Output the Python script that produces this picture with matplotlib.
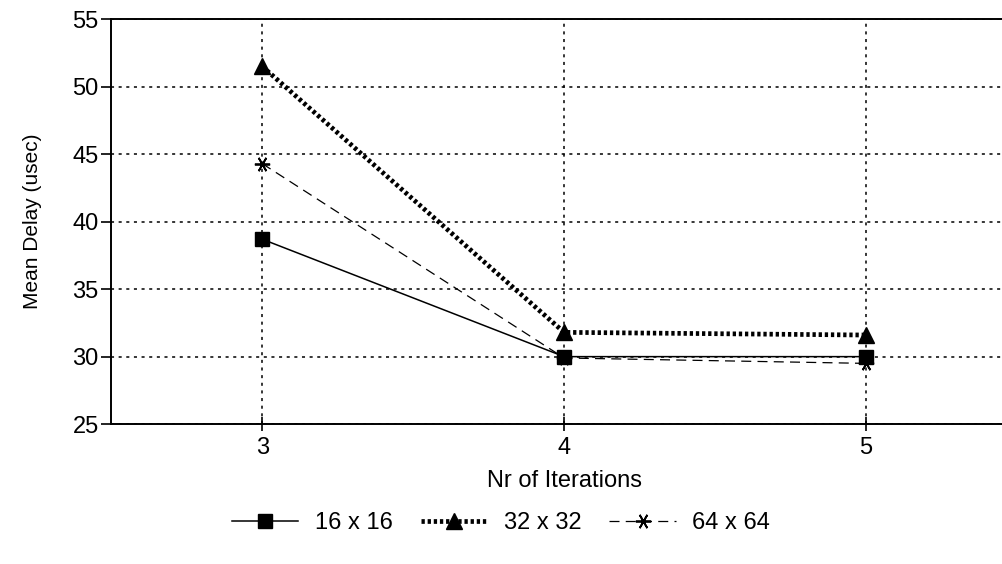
import matplotlib
matplotlib.use("Agg")
import matplotlib.pyplot as plt

plt.rcParams["font.family"] = ["Liberation Sans", "DejaVu Sans"]

iterations = [3, 4, 5]
delay_16 = [38.7, 30.0, 30.0]
delay_32 = [51.5, 31.8, 31.6]
delay_64 = [44.3, 29.9, 29.5]
labels = ["16 x 16", "32 x 32", "64 x 64"]
yticks = [25, 30, 35, 40, 45, 50, 55]

fig = plt.figure(figsize=(10.02, 5.64), dpi=100)
ax = fig.add_axes([0.111, 0.248, 0.904, 0.718])

ax.plot(iterations, delay_16, "-", color="k", lw=1.1, marker="s", ms=10, label=labels[0])
ax.plot(iterations, delay_32, color="k", lw=3.4, ls=(0, (0.7, 0.6)), marker="^", ms=12,
        label=labels[1])
ax.plot(iterations, delay_64, color="k", lw=0.9, ls=(0, (8, 5)), marker=(6, 2, 90), ms=11,
        mew=1.3, label=labels[2])

ax.set_xlim(2.5, 5.5)
ax.set_ylim(25, 55)
ax.set_xticks(iterations)
ax.set_yticks(yticks)
ax.grid(True, color="k", ls=(0, (2, 3)), lw=1.1)
ax.set_axisbelow(True)
ax.spines["right"].set_visible(False)
for s in ["left", "top", "bottom"]:
    ax.spines[s].set_linewidth(1.4)
ax.tick_params(axis="y", direction="out", length=7, width=1.2, labelsize=17, pad=2)
ax.tick_params(axis="x", direction="inout", length=10, width=1.2, labelsize=17, pad=4)

ax.set_xlabel("Nr of Iterations", fontsize=17, labelpad=8)
ax.set_ylabel("Mean Delay (usec)", fontsize=15, labelpad=22)

fig.legend(loc="center", bbox_to_anchor=(0.5, 0.073), ncol=3, frameon=False, fontsize=17,
           handlelength=2.8, columnspacing=1.2, handletextpad=0.7)

fig.savefig("out.png", dpi=100)
